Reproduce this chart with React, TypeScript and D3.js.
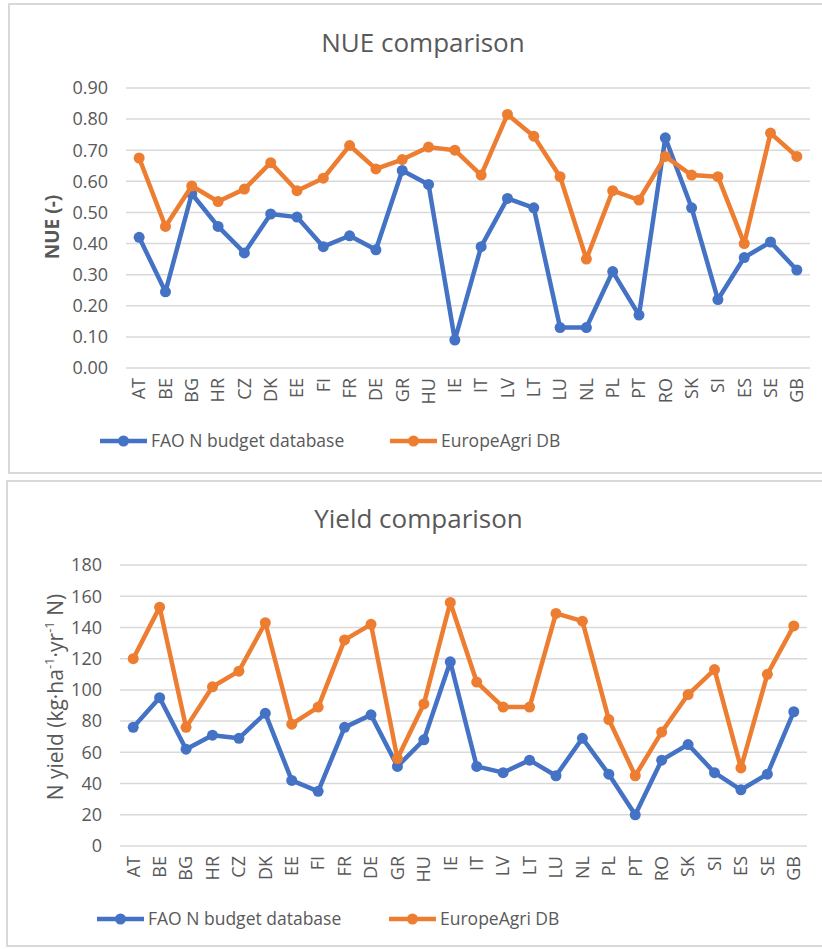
import React from "react";
import * as d3 from "d3";

const countries = ["AT", "BE", "BG", "HR", "CZ", "DK", "EE", "FI", "FR", "DE", "GR", "HU", "IE", "IT", "LV", "LT", "LU", "NL", "PL", "PT", "RO", "SK", "SI", "ES", "SE", "GB"];

const nueFao = [0.42, 0.245, 0.56, 0.455, 0.37, 0.495, 0.485, 0.39, 0.425, 0.38, 0.635, 0.59, 0.09, 0.39, 0.545, 0.515, 0.13, 0.13, 0.31, 0.17, 0.74, 0.515, 0.22, 0.355, 0.405, 0.315];
const nueEurope = [0.675, 0.455, 0.585, 0.535, 0.575, 0.66, 0.57, 0.61, 0.715, 0.64, 0.67, 0.71, 0.70, 0.62, 0.815, 0.745, 0.615, 0.35, 0.57, 0.54, 0.68, 0.62, 0.615, 0.40, 0.755, 0.68];

const yieldFao = [76, 95, 62, 71, 69, 85, 42, 35, 76, 84, 51, 68, 118, 51, 47, 55, 45, 69, 46, 20, 55, 65, 47, 36, 46, 86];
const yieldEurope = [120, 153, 76, 102, 112, 143, 78, 89, 132, 142, 56, 91, 156, 105, 89, 89, 149, 144, 81, 45, 73, 97, 113, 50, 110, 141];

const nueTicks = [0, 0.1, 0.2, 0.3, 0.4, 0.5, 0.6, 0.7, 0.8, 0.9];
const yieldTicks = [0, 20, 40, 60, 80, 100, 120, 140, 160, 180];

const seriesNames = ["FAO N budget database", "EuropeAgri DB"];
const colors = ["#4472C4", "#ED7D31"];

const font = "'Open Sans', sans-serif";
const textColor = "#595959";
const gridColor = "#D9D9D9";

function Chart(props) {
  const { box, title, titleY, plot, ticks, fmt, series, yTitle, legendY, legendX } = props;

  const x = d3.scaleBand().domain(countries).range([plot.left, plot.right]);
  const y = d3.scaleLinear().domain([ticks[0], ticks[ticks.length - 1]]).range([plot.bottom, plot.top]);
  const cx = (c) => x(c) + x.bandwidth() / 2;

  const line = d3
    .line()
    .x((d) => cx(d[0]))
    .y((d) => y(d[1]));

  return (
    <g>
      <rect x={box.x} y={box.y} width={box.w} height={box.h} fill="#fff" stroke={gridColor} strokeWidth={2} />
      <text x={(plot.left + plot.right) / 2 - 45} y={titleY} textAnchor="middle" fontFamily={font} fontSize={26} fill={textColor}>
        {title}
      </text>
      {ticks.map((t) => (
        <g key={t}>
          <line x1={plot.left} x2={plot.right} y1={y(t)} y2={y(t)} stroke={gridColor} strokeWidth={1.5} />
          <text x={plot.left - 18} y={y(t)} dy="0.35em" textAnchor="end" fontFamily={font} fontSize={18} fill={textColor}>
            {fmt(t)}
          </text>
        </g>
      ))}
      {countries.map((c) => (
        <text
          key={c}
          transform={`translate(${cx(c)},${plot.bottom + 10}) rotate(-90)`}
          dy="0.35em"
          textAnchor="end"
          fontFamily={font}
          fontSize={18}
          fill={textColor}
        >
          {c}
        </text>
      ))}
      {yTitle}
      {series.map((vals, i) => {
        const pts = countries.map((c, j) => [c, vals[j]]);
        return (
          <g key={i}>
            <path d={line(pts)} fill="none" stroke={colors[i]} strokeWidth={4.5} strokeLinejoin="round" />
            {pts.map((p) => (
              <circle key={p[0]} cx={cx(p[0])} cy={y(p[1])} r={5.5} fill={colors[i]} />
            ))}
          </g>
        );
      })}
      {seriesNames.map((name, i) => (
        <g key={name} transform={`translate(${legendX[i]},${legendY})`}>
          <line x1={0} x2={47} y1={0} y2={0} stroke={colors[i]} strokeWidth={4.5} />
          <circle cx={23.5} cy={0} r={5.5} fill={colors[i]} />
          <text x={51} y={0} dy="0.35em" fontFamily={font} fontSize={17.5} fill={textColor}>
            {name}
          </text>
        </g>
      ))}
    </g>
  );
}

export default function App() {
  return (
    <svg width={822} height={949} style={{ position: "absolute", left: 0, top: 0 }}>
      <rect width={822} height={949} fill="#fff" />
      <Chart
        box={{ x: 9, y: 4, w: 830, h: 469 }}
        title="NUE comparison"
        titleY={52}
        plot={{ left: 126, right: 810, top: 88, bottom: 368 }}
        ticks={nueTicks}
        fmt={d3.format(".2f")}
        series={[nueFao, nueEurope]}
        legendY={441}
        legendX={[100, 390]}
        yTitle={
          <text transform="translate(52,227) rotate(-90)" dy="0.35em" textAnchor="middle" fontFamily={font} fontSize={19} fontWeight="bold" fill={textColor}>
            NUE (-)
          </text>
        }
      />
      <Chart
        box={{ x: 7, y: 481, w: 830, h: 465 }}
        title="Yield comparison"
        titleY={528}
        plot={{ left: 120, right: 807, top: 565, bottom: 846 }}
        ticks={yieldTicks}
        fmt={d3.format("d")}
        series={[yieldFao, yieldEurope]}
        legendY={919}
        legendX={[97, 389]}
        yTitle={
          <text transform="translate(56,697) rotate(-90)" dy="0.35em" textAnchor="middle" fontFamily={font} fontSize={21} fill={textColor}>
            N yield (kg·ha
            <tspan baselineShift="super" fontSize={13}>-1</tspan>
            ·yr
            <tspan baselineShift="super" fontSize={13}>-1</tspan> N)
          </text>
        }
      />
    </svg>
  );
}
